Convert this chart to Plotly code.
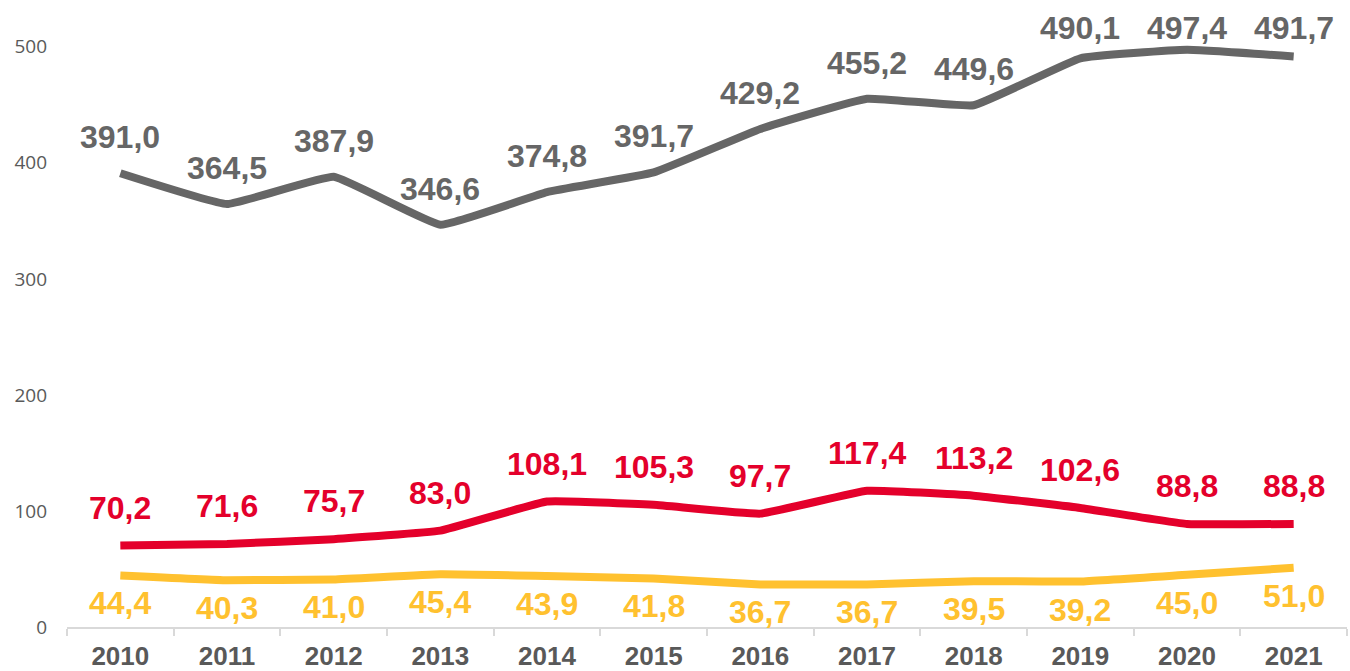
import plotly.graph_objects as go

years = ["2010", "2011", "2012", "2013", "2014", "2015", "2016", "2017", "2018", "2019", "2020", "2021"]
gray_values = [391.0, 364.5, 387.9, 346.6, 374.8, 391.7, 429.2, 455.2, 449.6, 490.1, 497.4, 491.7]
red_values = [70.2, 71.6, 75.7, 83.0, 108.1, 105.3, 97.7, 117.4, 113.2, 102.6, 88.8, 88.8]
yellow_values = [44.4, 40.3, 41.0, 45.4, 43.9, 41.8, 36.7, 36.7, 39.5, 39.2, 45.0, 51.0]
y_ticks = [0, 100, 200, 300, 400, 500]

GRAY = "#666666"
RED = "#E4002B"
YELLOW = "#FFC12F"

Y_MAX = 536
PLOT_TOP, PLOT_BOTTOM = 5, 44
PLOT_H = 671 - PLOT_TOP - PLOT_BOTTOM
PX_PER_UNIT = PLOT_H / Y_MAX
LABEL_CEIL = 516  # labels are kept inside the chart area, like the source

series = [
    (gray_values, GRAY, 36),
    (red_values, RED, 38),
    (yellow_values, YELLOW, -28),
]

fig = go.Figure()
annotations = []
for vals, color, shift in series:
    fig.add_trace(go.Scatter(
        x=years, y=vals, mode="lines",
        line=dict(color=color, width=8, shape="spline", smoothing=0.3),
        hoverinfo="skip", showlegend=False,
    ))
    for i, v in enumerate(vals):
        s = shift
        if shift > 0:
            s = min(shift, max(0, (LABEL_CEIL - v) * PX_PER_UNIT))
        annotations.append(dict(
            x=i, y=v, xref="x", yref="y",
            text=f"{v:.1f}".replace(".", ","),
            showarrow=False, yshift=s, yanchor="middle",
            font=dict(family="Liberation Sans, Arial", size=32, color=color, weight="bold"),
        ))

fig.update_layout(
    width=1350, height=671,
    margin=dict(l=67, r=3, t=PLOT_TOP, b=PLOT_BOTTOM),
    paper_bgcolor="white", plot_bgcolor="white",
    annotations=annotations,
    xaxis=dict(
        type="category", showgrid=False, showline=True, linecolor="#D9D9D9", linewidth=2,
        ticks="outside", tickson="boundaries", ticklen=7, tickcolor="#D9D9D9", tickwidth=2,
        tickfont=dict(family="Liberation Sans, Arial", size=26, color="#595959", weight="bold"),
        ticklabelstandoff=5,
        range=[-0.5, 11.5], automargin=False,
    ),
    yaxis=dict(
        range=[0, Y_MAX], tickvals=y_ticks, showgrid=False, zeroline=False, showline=False,
        tickfont=dict(family="Open Sans", size=19, color="#595959"),
        ticklabelstandoff=19, automargin=False,
    ),
)

fig.write_html("out.html", config={"displayModeBar": False},
               post_script="document.body.style.margin='0';")
